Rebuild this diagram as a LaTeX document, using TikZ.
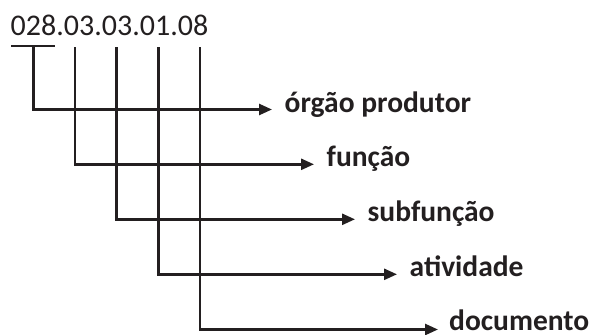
\documentclass[tikz,border=0pt]{standalone}
\usepackage{fontspec}
\setmainfont{Carlito}
\usetikzlibrary{arrows.meta,calc}
\definecolor{ink}{HTML}{231F20}
\begin{document}
\begin{tikzpicture}[x=1pt,y=-1pt,
  line/.style={draw=ink,line width=2.6pt},
  arr/.style={line,-{Triangle[length=13pt,width=11pt]}},
  lab/.style={anchor=base west,inner sep=0pt,text=ink,font=\fontsize{29.5}{35}\selectfont\bfseries},
  code/.style={anchor=base west,inner sep=0pt,text=ink,font=\fontsize{30}{36}\selectfont}]
\useasboundingbox (0,0) rectangle (598,335);
\node[code] (code) at (10.5,35) {028.03.03.01.08};
% underline and vertical tops
\coordinate (u1) at (11,46);
\coordinate (u2) at (55,46);
\coordinate (v1) at (33.3,46);
\coordinate (v2) at (75,47);
\coordinate (v3) at (116.7,47);
\coordinate (v4) at (158.3,47);
\coordinate (v5) at (200,47);
% arrow tips
\coordinate (t1) at (272,109.5);
\coordinate (t2) at (314,164.3);
\coordinate (t3) at (355,219.3);
\coordinate (t4) at (397,274.3);
\coordinate (t5) at (438,329.5);
\node[lab] (l1) at ($(t1)+(12.5,2.5)$) {órgão produtor};
\node[lab] (l2) at ($(t2)+(12.5,2.5)$) {função};
\node[lab] (l3) at ($(t3)+(12.5,2.5)$) {subfunção};
\node[lab] (l4) at ($(t4)+(12.5,2.5)$) {atividade};
\node[lab] (l5) at ($(t5)+(11,1)$) {documento};
\draw[line] (u1) -- (u2);
\draw[arr] (v1) |- (t1);
\draw[arr] (v2) |- (t2);
\draw[arr] (v3) |- (t3);
\draw[arr] (v4) |- (t4);
\draw[arr] (v5) |- (t5);
\end{tikzpicture}
\end{document}
